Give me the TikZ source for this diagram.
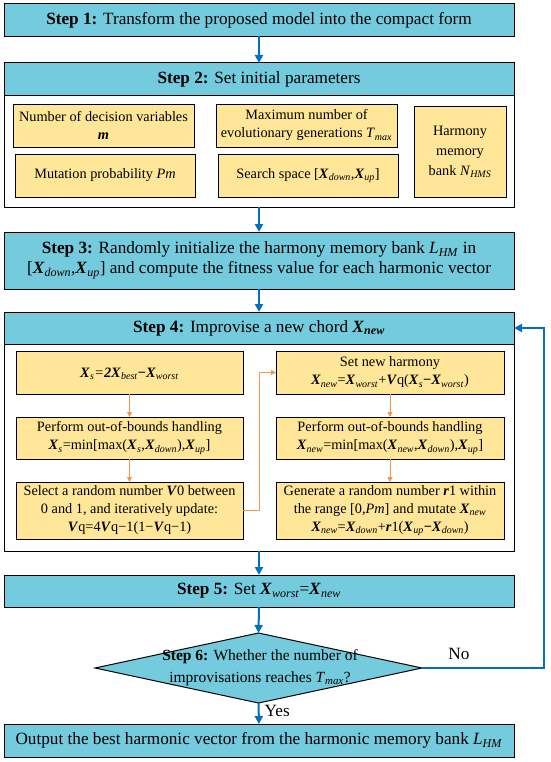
\documentclass[tikz,border=0pt]{standalone}
\usepackage{fontspec}
\setmainfont{Liberation Serif}
\usetikzlibrary{arrows.meta,shapes.geometric,positioning}
\definecolor{cyanfill}{RGB}{115,203,221}
\definecolor{yelfill}{RGB}{255,230,153}
\definecolor{flowblue}{RGB}{0,112,192}
\definecolor{floworange}{RGB}{247,150,70}
\newcommand{\bX}{\textbf{\textit{X}}}
\newcommand{\bV}{\textbf{\textit{V}}}
\newcommand{\sbx}[1]{\textsubscript{\textit{#1}}}
\newcommand{\hdfont}{\fontsize{17.2}{20}\selectfont}
\newcommand{\infont}{\fontsize{14.3}{18}\selectfont}
\begin{document}
\begin{tikzpicture}[x=1pt,y=-1pt,
  stepbox/.style={draw=black,line width=1pt,fill=cyanfill,rectangle,inner sep=0pt,outer sep=0pt,align=center,font=\hdfont,minimum width=510pt},
  outerbox/.style={draw=black,line width=1pt,fill=white,rectangle,inner sep=0pt,outer sep=0pt,minimum width=510pt},
  parbox/.style={draw=black,line width=0.9pt,fill=yelfill,rectangle,inner sep=0pt,outer sep=0pt,align=center,font=\infont},
  bluearrow/.style={draw=flowblue,line width=2pt,-{Triangle[length=8pt,width=8pt]}},
  orarrow/.style={draw=floworange,line width=1pt,-{Triangle[length=5pt,width=5pt]}}]
\useasboundingbox (0,0) rectangle (550,762);
\fill[white] (0,0) rectangle (550,762);
% Step 1
\node[stepbox,minimum height=33pt] (s1) at (259,20) {\textbf{Step 1:} Transform the proposed model into the compact form};
% Step 2
\node[outerbox,minimum height=144pt] (s2o) at (259,135) {};
\node[stepbox,minimum height=33pt] (s2) at (259,79.5) {\textbf{Step 2:} Set initial parameters};
\node[parbox,minimum width=181pt,minimum height=43pt] (b1) at (103.5,125.5) {Number of decision variables\\\textbf{\textit{m}}};
\node[parbox,minimum width=181pt,minimum height=43pt] (b2) at (306.5,125.5) {Maximum number of\\evolutionary generations \textit{T}\sbx{max}};
\node[parbox,minimum width=180pt,minimum height=43pt] (b3) at (105,175.5) {Mutation probability \textit{Pm}};
\node[parbox,minimum width=180pt,minimum height=43pt] (b4) at (308,175.5) {Search space [\bX\sbx{down},\bX\sbx{up}]};
\node[parbox,minimum width=92pt,minimum height=91pt,font=\fontsize{14.3}{20}\selectfont] (b5) at (460,151.5) {Harmony\\memory\\bank \textit{N}\sbx{HMS}};
% Step 3
\node[stepbox,minimum height=57pt] (s3) at (259,260.5) {\textbf{Step 3:} Randomly initialize the harmony memory bank \textit{L}\sbx{HM} in\\{}[\bX\sbx{down},\bX\sbx{up}] and compute the fitness value for each harmonic vector};
% Step 4
\node[outerbox,minimum height=239pt] (s4o) at (259,431.5) {};
\node[stepbox,minimum height=32pt] (s4) at (259,328) {\textbf{Step 4:} Improvise a new chord \bX\textsubscript{\textbf{\textit{new}}}};
\node[parbox,minimum width=227pt,minimum height=43pt,text depth=-3pt] (l1) at (129.5,372.5) {\bX\sbx{s}\textit{=}\textbf{\textit{2X}}\sbx{best}\textbf{−}\bX\sbx{worst}};
\node[parbox,minimum width=227pt,minimum height=42pt] (l2) at (129.5,438) {Perform out-of-bounds handling\\\bX\sbx{s}=min[max(\bX\sbx{s},\bX\sbx{down}),\bX\sbx{up}]};
\node[parbox,minimum width=227pt,minimum height=57pt] (l3) at (129.5,510.5) {Select a random number \bV0 between\\0 and 1, and iteratively update:\\\bV q=4\bV q−1(1−\bV q−1)};
\node[parbox,minimum width=228pt,minimum height=43pt] (r1) at (390,372.5) {Set new harmony\\\bX\sbx{new}=\bX\sbx{worst}+\bV q(\bX\sbx{s}\textbf{−}\bX\sbx{worst})};
\node[parbox,minimum width=228pt,minimum height=42pt] (r2) at (390,438) {Perform out-of-bounds handling\\\bX\sbx{new}=min[max(\bX\sbx{new},\bX\sbx{down}),\bX\sbx{up}]};
\node[parbox,minimum width=228pt,minimum height=57pt] (r3) at (390,510.5) {Generate a random number \textbf{\textit{r}}1 within\\the range [0,\textit{Pm}] and mutate \bX\sbx{new}\\\bX\sbx{new}=\bX\sbx{down}+\textbf{\textit{r}}1(\bX\sbx{up}\textbf{−}\bX\sbx{down})};
% Step 5
\node[stepbox,minimum height=32pt] (s5) at (259,591) {\textbf{Step 5:} Set \bX\sbx{worst}=\bX\sbx{new}};
% Step 6 diamond
\node[diamond,draw=black,line width=1pt,fill=cyanfill,inner sep=0pt,outer sep=0pt,minimum width=327pt,minimum height=70pt] (d6) at (258.5,668) {};
\node[align=center,font=\fontsize{15.5}{22}\selectfont,inner sep=0pt] (d6t) at (260,668) {\textbf{Step 6:} Whether the number of\\improvisations reaches \textit{T}\sbx{max}?};
% Output
\node[stepbox,minimum height=33pt] (out) at (259,740.5) {Output the best harmonic vector from the harmonic memory bank \textit{L}\sbx{HM}};
% blue arrows
\draw[bluearrow] (s1.south) -- (s2o.north);
\draw[bluearrow] (s2o.south) -- (s3.north);
\draw[bluearrow] (s3.south) -- (s4o.north);
\draw[bluearrow] (s4o.south) -- (s5.north);
\draw[bluearrow] (s5.south) -- (d6.north);
\draw[bluearrow] (d6.south) -- node[right,font=\hdfont,inner sep=5pt,pos=0.4] (yes) {Yes} (out.north);
\coordinate (lp1) at (544,668);
\coordinate (lp2) at (544,328);
\draw[bluearrow] (d6.east) -- (lp1) -- (lp2) -- (s4.east);
\node[font=\hdfont] (no) at (459,654) {No};
% orange arrows
\draw[orarrow] (l1.south) -- (l2.north);
\draw[orarrow] (l2.south) -- (l3.north);
\coordinate (oj) at (259,510.5);
\draw[orarrow] (l3.east) -- (oj) |- (r1.west);
\draw[orarrow] (r1.south) -- (r2.north);
\draw[orarrow] (r2.south) -- (r3.north);
\end{tikzpicture}
\end{document}
